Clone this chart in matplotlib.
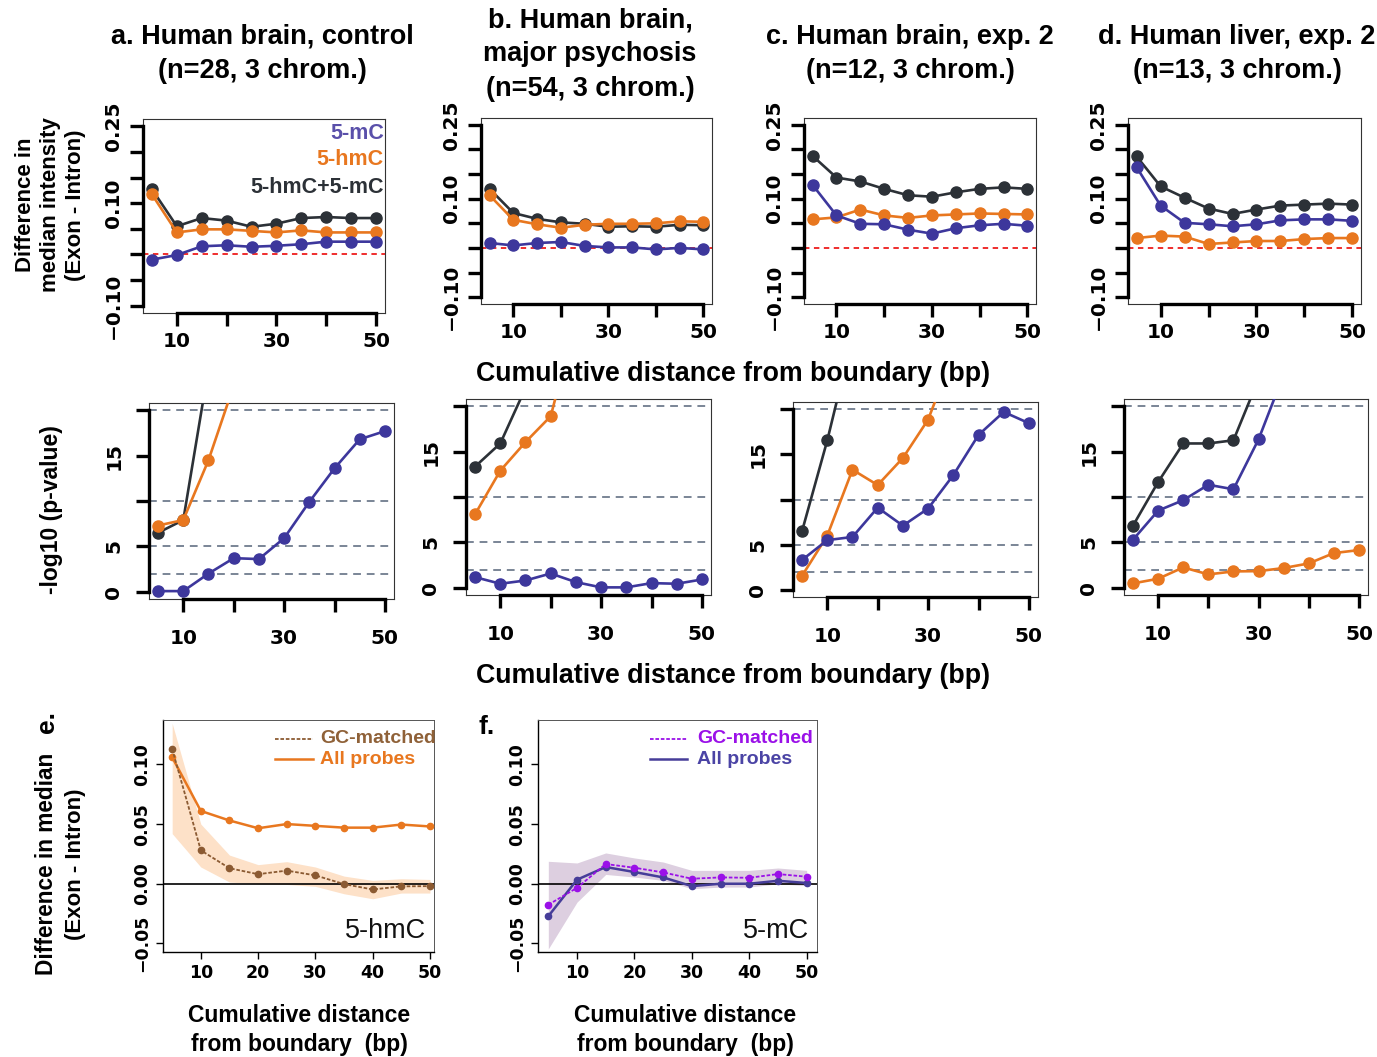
import matplotlib
matplotlib.use('Agg')
import matplotlib.pyplot as plt
import matplotlib.transforms as mtransforms
import numpy as np

W, H = 1377, 1057
fig = plt.figure(figsize=(W / 100, H / 100), dpi=100)

# ---------------- data ----------------
dist = [5, 10, 15, 20, 25, 30, 35, 40, 45, 50]

# top row: difference in median intensity (Exon - Intron)
a_top_mC = [-0.010, -0.001, 0.016, 0.018, 0.015, 0.017, 0.020, 0.025, 0.025, 0.025]
a_top_hmC = [0.117, 0.043, 0.049, 0.049, 0.046, 0.043, 0.047, 0.043, 0.043, 0.043]
a_top_both = [0.127, 0.055, 0.071, 0.066, 0.054, 0.060, 0.071, 0.073, 0.071, 0.071]

b_top_mC = [0.010, 0.005, 0.010, 0.012, 0.004, 0.001, 0.001, -0.003, 0.000, -0.003]
b_top_hmC = [0.107, 0.057, 0.048, 0.041, 0.047, 0.049, 0.049, 0.050, 0.054, 0.053]
b_top_both = [0.120, 0.071, 0.059, 0.052, 0.049, 0.043, 0.044, 0.043, 0.047, 0.046]

c_top_mC = [0.128, 0.066, 0.049, 0.048, 0.037, 0.029, 0.040, 0.046, 0.049, 0.045]
c_top_hmC = [0.058, 0.062, 0.078, 0.066, 0.061, 0.066, 0.068, 0.070, 0.069, 0.068]
c_top_both = [0.187, 0.143, 0.135, 0.120, 0.107, 0.104, 0.113, 0.120, 0.123, 0.120]

d_top_mC = [0.164, 0.086, 0.051, 0.048, 0.044, 0.048, 0.056, 0.058, 0.058, 0.055]
d_top_hmC = [0.020, 0.025, 0.023, 0.008, 0.011, 0.014, 0.014, 0.018, 0.020, 0.020]
d_top_both = [0.186, 0.125, 0.102, 0.080, 0.069, 0.078, 0.086, 0.088, 0.090, 0.088]

# middle row: -log10 (p-value); values past the top of the panel are off scale
a_mid_mC = [0.07, 0.07, 2.0, 3.7, 3.6, 5.9, 9.9, 13.6, 16.8, 17.7]
a_mid_hmC = [7.3, 7.9, 14.5, 22.7, np.nan, np.nan, np.nan, np.nan, np.nan, np.nan]
a_mid_both = [6.5, 7.9, 24.6, np.nan, np.nan, np.nan, np.nan, np.nan, np.nan, np.nan]

b_mid_mC = [1.17, 0.44, 0.80, 1.57, 0.62, 0.04, 0.04, 0.51, 0.44, 0.91]
b_mid_hmC = [8.1, 12.9, 16.05, 18.9, 29.5, np.nan, np.nan, np.nan, np.nan, np.nan]
b_mid_both = [13.35, 15.9, 22.0, np.nan, np.nan, np.nan, np.nan, np.nan, np.nan, np.nan]

c_mid_mC = [3.3, 5.5, 5.85, 9.1, 7.1, 9.0, 12.7, 17.15, 19.7, 18.45]
c_mid_hmC = [1.55, 6.0, 13.3, 11.6, 14.6, 18.85, 26.1, np.nan, np.nan, np.nan]
c_mid_both = [6.5, 16.55, 28.0, np.nan, np.nan, np.nan, np.nan, np.nan, np.nan, np.nan]

d_mid_mC = [5.3, 8.5, 9.65, 11.35, 10.85, 16.35, 23.5, np.nan, np.nan, np.nan]
d_mid_hmC = [0.48, 0.99, 2.24, 1.47, 1.80, 1.83, 2.17, 2.68, 3.82, 4.15]
d_mid_both = [6.85, 11.65, 15.9, 15.9, 16.25, 23.0, np.nan, np.nan, np.nan, np.nan]

# bottom row
e_gc = [0.113, 0.028, 0.013, 0.008, 0.011, 0.007, -0.0003, -0.0048, -0.0022, -0.0020]
e_gc_hi = [0.1345, 0.050, 0.024, 0.016, 0.0185, 0.014, 0.0064, 0.0028, 0.0042, 0.0036]
e_gc_lo = [0.042, 0.014, 0.0014, 0.0, -0.0006, -0.0022, -0.0084, -0.0126, -0.0078, -0.0078]
e_all = [0.106, 0.061, 0.053, 0.0465, 0.050, 0.0485, 0.047, 0.047, 0.0496, 0.048]

f_gc = [-0.0176, -0.0034, 0.0165, 0.0134, 0.0095, 0.0042, 0.0053, 0.0050, 0.0081, 0.0059]
f_gc_hi = [0.0188, 0.0174, 0.0258, 0.0216, 0.0182, 0.0112, 0.0112, 0.0112, 0.0132, 0.0112]
f_gc_lo = [-0.0546, -0.0154, 0.0078, 0.0056, 0.0028, -0.0042, -0.0028, -0.0028, 0.0, -0.0017]
f_all = [-0.0272, 0.0034, 0.0140, 0.0098, 0.0053, -0.0020, 0.0, 0.0, 0.0025, 0.0006]

titles = ["a. Human brain, control\n(n=28, 3 chrom.)",
          "b. Human brain,\nmajor psychosis\n(n=54, 3 chrom.)",
          "c. Human brain, exp. 2\n(n=12, 3 chrom.)",
          "d. Human liver, exp. 2\n(n=13, 3 chrom.)"]

top_ticks = [-0.10, -0.05, 0.0, 0.05, 0.10, 0.15, 0.20, 0.25]
top_ticklabels = ["\u22120.10", "", "", "", "0.10", "", "", "0.25"]
mid_ticks = [0, 5, 10, 15, 20]
mid_ticklabels = ["0", "5", "", "15", ""]
x_ticks = [10, 20, 30, 40, 50]
x_ticklabels = ["10", "", "30", "", "50"]
pval_lines = [2, 5, 10, 20]

# ---------------- style ----------------
PURPLE = '#3d379c'
ORANGE = '#e8771f'
DARK = '#2c3137'
GRID = '#7a8596'
TFONT = 'Liberation Sans'
NFONT = 'DejaVu Sans'


def ax_at(l, t, r, b):
    return fig.add_axes([l / W, 1 - b / H, (r - l) / W, (b - t) / H])


def r_axes(ax, xlim, ylim, yticks, ylabels, ybar, xpad, ypad):
    ax.set_xlim(*xlim)
    ax.set_ylim(*ylim)
    for s in ax.spines.values():
        s.set_linewidth(0.8)
        s.set_color('#333333')
    ax.set_xticks(x_ticks)
    ax.set_xticklabels(x_ticklabels, fontfamily=NFONT, fontweight='bold', fontsize=14.5)
    ax.set_yticks(yticks)
    ax.set_yticklabels(ylabels, fontfamily=NFONT, fontweight='bold', fontsize=14.5,
                       rotation=90, va='center')
    ax.tick_params(axis='both', direction='out', length=9.5, width=2.4, color='black')
    ax.tick_params(axis='x', pad=xpad)
    ax.tick_params(axis='y', pad=ypad)
    tb = mtransforms.blended_transform_factory(ax.transData, ax.transAxes)
    ax.plot([10, 50], [0, 0], transform=tb, color='black', lw=2.4, clip_on=False,
            solid_capstyle='projecting', zorder=5)
    tl = mtransforms.blended_transform_factory(ax.transAxes, ax.transData)
    ax.plot([0, 0], ybar, transform=tl, color='black', lw=2.4, clip_on=False,
            solid_capstyle='projecting', zorder=5)


def series(ax, y, color):
    ax.plot(dist, y, color=color, lw=1.9, marker='o', ms=8, mec=color, mfc=color, zorder=3)


top_boxes = [(143, 119, 385, 313), (481, 118, 712, 304), (804, 118, 1036, 304), (1128, 118, 1361, 304)]
mid_boxes = [(149, 403, 394, 599), (466, 399, 711, 595), (793, 402, 1038, 597), (1124, 399, 1368, 595)]
title_x = [262, 590, 910, 1237]
title_y = [24, 7, 24, 24]

tops = [(a_top_mC, a_top_hmC, a_top_both), (b_top_mC, b_top_hmC, b_top_both),
        (c_top_mC, c_top_hmC, c_top_both), (d_top_mC, d_top_hmC, d_top_both)]
mids = [(a_mid_mC, a_mid_hmC, a_mid_both), (b_mid_mC, b_mid_hmC, b_mid_both),
        (c_mid_mC, c_mid_hmC, c_mid_both), (d_mid_mC, d_mid_hmC, d_mid_both)]

for i in range(4):
    ax = ax_at(*top_boxes[i])
    r_axes(ax, (3.2, 51.8), (-0.114, 0.264), top_ticks, top_ticklabels, [-0.10, 0.25], 4, 5)
    ax.axhline(0, color='#ee1c1c', lw=1.3, ls=(0, (3, 2.5)), zorder=1)
    mC, hmC, both = tops[i]
    series(ax, both, DARK)
    series(ax, hmC, ORANGE)
    series(ax, mC, PURPLE)
    fig.text(title_x[i] / W, 1 - title_y[i] / H, titles[i], ha='center', va='top',
             fontfamily=TFONT, fontweight='bold', fontsize=19.5, linespacing=1.42)
    if i == 0:
        ax.text(0.995, 0.925, "5-mC", transform=ax.transAxes, ha='right', va='center',
                color='#5a50aa', fontfamily=TFONT, fontweight='bold', fontsize=15.5)
        ax.text(0.995, 0.79, "5-hmC", transform=ax.transAxes, ha='right', va='center',
                color=ORANGE, fontfamily=TFONT, fontweight='bold', fontsize=15.5)
        ax.text(0.995, 0.645, "5-hmC+5-mC", transform=ax.transAxes, ha='right', va='center',
                color=DARK, fontfamily=TFONT, fontweight='bold', fontsize=15.5)

    ax = ax_at(*mid_boxes[i])
    r_axes(ax, (3.2, 51.8), (-0.8, 20.8), mid_ticks, mid_ticklabels, [0, 20], 12, 9)
    for yl in pval_lines:
        ax.axhline(yl, color=GRID, lw=1.4, ls=(0, (4, 3)), zorder=1)
    mC, hmC, both = mids[i]
    series(ax, both, DARK)
    series(ax, hmC, ORANGE)
    series(ax, mC, PURPLE)

# row labels
fig.text(51 / W, 1 - 205 / H, "Difference in\nmedian intensity\n(Exon - Intron)", rotation=90,
         ha='center', va='center', fontfamily=TFONT, fontweight='bold', fontsize=16,
         linespacing=1.25)
fig.text(733 / W, 1 - 374 / H, "Cumulative distance from boundary (bp)", ha='center', va='center',
         fontfamily=TFONT, fontweight='bold', fontsize=19.3)
fig.text(52 / W, 1 - 510 / H, "-log10 (p-value)", rotation=90, ha='center', va='center',
         fontfamily=TFONT, fontweight='bold', fontsize=16.5)
fig.text(733 / W, 1 - 676 / H, "Cumulative distance from boundary (bp)", ha='center', va='center',
         fontfamily=TFONT, fontweight='bold', fontsize=19.3)


# ---------------- bottom panels ----------------
def bottom_axes(ax, xlim):
    ax.set_xlim(*xlim)
    ax.set_ylim(-0.0572, 0.1372)
    for name, s in ax.spines.items():
        s.set_linewidth(1.0 if name in ('left', 'bottom') else 0.7)
        s.set_color('black' if name in ('left', 'bottom') else '#555555')
    ax.set_xticks([10, 20, 30, 40, 50])
    ax.set_xticklabels(["10", "20", "30", "40", "50"], fontfamily=NFONT, fontweight='bold',
                       fontsize=12.5)
    ax.set_yticks([-0.05, 0.0, 0.05, 0.10])
    ax.set_yticklabels(["\u22120.05", "0.00", "0.05", "0.10"], fontfamily=NFONT,
                       fontweight='bold', fontsize=12.5, rotation=90, va='center')
    ax.tick_params(axis='both', direction='out', length=5, width=1.0)
    ax.tick_params(axis='x', pad=4)
    ax.axhline(0, color='black', lw=1.2, zorder=2)


axe = ax_at(163, 720, 434, 952)
bottom_axes(axe, (3.4, 50.7))
axe.fill_between(dist, e_gc_lo, e_gc_hi, color='#fde1c8', lw=0, zorder=1)
axe.plot(dist, e_all, color=ORANGE, lw=1.8, marker='o', ms=4.5, zorder=3)
axe.plot(dist, e_gc, color='#8b5a32', lw=1.3, ls=(0, (2, 1)), marker='o', ms=4.5, zorder=3)
axe.plot([0.415, 0.555], [0.92, 0.92], transform=axe.transAxes, color='#8b5a32', lw=1.3,
         ls=(0, (2, 1)))
axe.plot([0.415, 0.555], [0.83, 0.83], transform=axe.transAxes, color=ORANGE, lw=1.8)
axe.text(0.58, 0.92, "GC-matched", transform=axe.transAxes, color='#8f6138', ha='left',
         va='center', fontfamily=TFONT, fontweight='bold', fontsize=14)
axe.text(0.58, 0.83, "All probes", transform=axe.transAxes, color=ORANGE, ha='left',
         va='center', fontfamily=TFONT, fontweight='bold', fontsize=14)
axe.text(0.97, 0.09, "5-hmC", transform=axe.transAxes, ha='right', va='center',
         fontfamily=TFONT, fontsize=19.5, color='#111111')

axf = ax_at(538, 720, 817, 952)
bottom_axes(axf, (3.2, 51.8))
axf.fill_between(dist, f_gc_lo, f_gc_hi, color='#ddcfe0', lw=0, zorder=1)
axf.plot(dist, f_all, color='#463d99', lw=1.8, marker='o', ms=4.5, zorder=3)
axf.plot(dist, f_gc, color='#9a10e8', lw=1.3, ls=(0, (2, 1)), marker='o', ms=4.5, zorder=3)
axf.plot([0.40, 0.535], [0.92, 0.92], transform=axf.transAxes, color='#9a10e8', lw=1.3,
         ls=(0, (2, 1)))
axf.plot([0.40, 0.535], [0.83, 0.83], transform=axf.transAxes, color='#463d99', lw=1.8)
axf.text(0.57, 0.92, "GC-matched", transform=axf.transAxes, color='#9a10e8', ha='left',
         va='center', fontfamily=TFONT, fontweight='bold', fontsize=14)
axf.text(0.57, 0.83, "All probes", transform=axf.transAxes, color='#4b44a5', ha='left',
         va='center', fontfamily=TFONT, fontweight='bold', fontsize=14)
axf.text(0.97, 0.09, "5-mC", transform=axf.transAxes, ha='right', va='center',
         fontfamily=TFONT, fontsize=19.5, color='#111111')

fig.text(47 / W, 1 - 722 / H, "e.", rotation=90, ha='center', va='center',
         fontfamily=TFONT, fontweight='bold', fontsize=19)
fig.text(487 / W, 1 - 727 / H, "f.", ha='center', va='center',
         fontfamily=TFONT, fontweight='bold', fontsize=19)
fig.text(47 / W, 1 - 864 / H, "Difference in median", rotation=90, ha='center', va='center',
         fontfamily=TFONT, fontweight='bold', fontsize=16.3)
fig.text(75 / W, 1 - 864 / H, "(Exon - Intron)", rotation=90, ha='center', va='center',
         fontfamily=TFONT, fontweight='bold', fontsize=16)
for cx in (299, 685):
    fig.text(cx / W, 1 - 1015 / H, "Cumulative distance", ha='center', va='center',
             fontfamily=TFONT, fontweight='bold', fontsize=16.5)
    fig.text(cx / W, 1 - 1045 / H, "from boundary  (bp)", ha='center', va='center',
             fontfamily=TFONT, fontweight='bold', fontsize=16.5)

fig.savefig('out.png', dpi=100)
